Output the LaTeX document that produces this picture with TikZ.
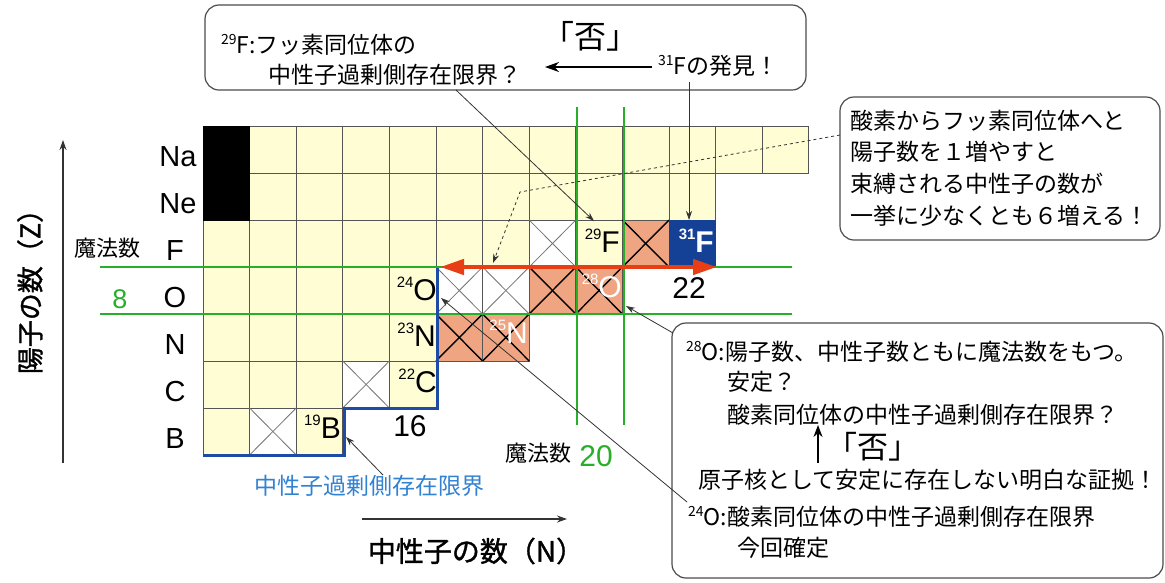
\documentclass[tikz,border=0pt]{standalone}
\usepackage{fontspec}
\setmainfont{Liberation Sans}
\newfontfamily\jp{Noto Sans CJK JP}
\newfontfamily\jpb[FakeBold=1.2]{Noto Sans CJK JP}
\usetikzlibrary{arrows.meta}
\definecolor{cream}{RGB}{255,253,212}
\definecolor{salmon}{RGB}{240,165,130}
\definecolor{cellblue}{RGB}{20,65,150}
\definecolor{gridc}{RGB}{85,85,85}
\definecolor{mgreen}{RGB}{40,175,40}
\definecolor{mred}{RGB}{232,62,22}
\definecolor{dripblue}{RGB}{30,75,165}
\definecolor{txtblue}{RGB}{50,130,210}
\newcommand\sups[2][14]{\raisebox{0.42em}{\fontsize{#1}{#1}\selectfont #2}}
\begin{document}
\begin{tikzpicture}[x=1pt,y=-1pt,
  elem/.style={font=\fontsize{29}{30}\selectfont, inner sep=0pt},
  cellt/.style={font=\fontsize{30}{30}\selectfont, inner sep=0pt, anchor=east},
  num/.style={font=\fontsize{30}{30}\selectfont, inner sep=0pt},
  jtxt/.style={font=\jp\fontsize{23}{28}\selectfont, inner sep=0pt, anchor=west},
  conn/.style={draw=black!80, line width=0.8pt, -{Stealth[length=9pt,width=6pt]}},
  rbox/.style={draw=black!70, line width=1.2pt, rounded corners=14pt},
  wx/.style={draw=black!55, line width=0.8pt},
  ox/.style={draw=black, line width=1.4pt}]
\useasboundingbox (0,0) rectangle (1165,582);
\fill[white] (0,0) rectangle (1165,582);

% ---- grid cells ----
\foreach \r/\n in {0/13,1/11,2/11,3/9,4/7,5/5,6/3} {
  \foreach \c in {1,...,\n} {
    \filldraw[fill=cream, draw=gridc, line width=1pt] ({203+46.6*(\c-1)},{126+47*\r}) rectangle +(46.6,47);
  }
}
% black cells
\foreach \c/\r in {0/0,0/1} {
  \filldraw[fill=black, draw=black] ({203+46.6*\c},{126+47*\r}) rectangle +(46.6,47);
}
% white crossed cells
\foreach \c/\r in {7/2,5/3,6/3,3/5,1/6} {
  \filldraw[fill=white, draw=gridc, line width=1pt] ({203+46.6*\c},{126+47*\r}) rectangle +(46.6,47);
  \draw[wx] ({203+46.6*\c},{126+47*\r}) -- +(46.6,47);
  \draw[wx] ({203+46.6*\c},{126+47*\r+47}) -- +(46.6,-47);
}
% salmon crossed cells
\foreach \c/\r in {9/2,7/3,8/3,5/4,6/4} {
  \filldraw[fill=salmon, draw=gridc, line width=1pt] ({203+46.6*\c},{126+47*\r}) rectangle +(46.6,47);
  \draw[ox] ({203+46.6*\c},{126+47*\r}) -- +(46.6,47);
  \draw[ox] ({203+46.6*\c},{126+47*\r+47}) -- +(46.6,-47);
}
% blue cell 31F
\filldraw[fill=cellblue, draw=cellblue] ({203+46.6*10},{126+47*2}) rectangle +(46.6,47);

% ---- magic number lines ----
\draw[mgreen, line width=2pt] (100,267) -- (792,267);
\draw[mgreen, line width=2pt] (100,314) -- (792,314);
\draw[mgreen, line width=2pt] (577,107) -- (577,425);
\draw[mgreen, line width=2.4pt] (624,107) -- (624,425);

% ---- drip line ----
\draw[dripblue, line width=3pt, line join=miter] (203,455) -- (344,455) -- (344,408) -- (437,408) -- (437,268);

% ---- cell labels ----
\node[cellt] (c29F) at (620,241) {\sups[15]{29}F};
\node[cellt, text=white, font=\bfseries\fontsize{30}{30}\selectfont] (c31F) at (714,241) {\sups[15]{31}F};
\node[cellt, text=white] (c28O) at (622,286) {\sups[15]{28}O};
\node[cellt, text=white] (c25N) at (528,332) {\sups[15]{25}N};
\node[cellt] (c24O) at (437,289) {\sups[15]{24}O};
\node[cellt] (c23N) at (436,335) {\sups[15]{23}N};
\node[cellt] (c22C) at (437,381) {\sups[15]{22}C};
\node[cellt] (c19B) at (341,427) {\sups[15]{19}B};

% ---- red arrow ----
\coordinate (rl) at (440,267);
\coordinate (rr) at (717,267);
\draw[mred, line width=4.5pt, {Triangle[length=24pt,width=15pt]}-{Triangle[length=24pt,width=15pt]}] (rl) -- (rr);

% ---- row labels ----
\node[elem] (lNa) at (178,157) {Na};
\node[elem] (lNe) at (178,204) {Ne};
\node[elem] (lF) at (175,251) {F};
\node[elem] (lO) at (175,298) {O};
\node[elem] (lN) at (175,345) {N};
\node[elem] (lC) at (175,392) {C};
\node[elem] (lB) at (175,439) {B};
\node[font=\jp\fontsize{22}{24}\selectfont, inner sep=0pt] (mag8) at (107,248) {魔法数};
\node[num, text=mgreen, font=\fontsize{27}{27}\selectfont] (n8) at (120,299) {8};
\node[num] (n16) at (410,426) {16};
\node[num] (n22) at (689,288) {22};
\node[font=\jp\fontsize{22}{24}\selectfont, inner sep=0pt] (mag20) at (538,453) {魔法数};
\node[num, text=mgreen] (n20) at (596,456) {20};

% ---- axes ----
\coordinate (ya0) at (63,463);
\coordinate (ya1) at (63,140);
\draw[black!80, line width=1.2pt, -{Stealth[length=10pt,width=7pt]}] (ya0) -- (ya1);
\node[font=\jpb\fontsize{27}{28}\selectfont, rotate=90, inner sep=0pt] (ylab) at (30,285) {陽子の数（Z）};
\coordinate (xa0) at (362,519);
\coordinate (xa1) at (567,519);
\draw[black!80, line width=1.2pt, -{Stealth[length=10pt,width=7pt]}] (xa0) -- (xa1);
\node[font=\jpb\fontsize{28}{30}\selectfont, inner sep=0pt] (xlab) at (476,551) {中性子の数（N）};

% ---- drip line label ----
\node[font=\jp\fontsize{23}{26}\selectfont, text=txtblue, inner sep=0pt] (dripl) at (369,486) {中性子過剰側存在限界};
\coordinate (pb) at (383,475);
\coordinate (ab) at (346,437);
\draw[conn] (pb) -- (ab);

% ---- top callout ----
\draw[rbox] (205,5) rectangle (806,90);
\node[jtxt] (t1) at (221,45) {\sups{29}F:フッ素同位体の};
\node[jtxt] (t2) at (268,75) {中性子過剰側存在限界？};
\node[font=\jp\fontsize{32}{34}\selectfont, inner sep=0pt] (hi1) at (590,36) {「否」};
\node[jtxt] (t3) at (658,66) {\sups{31}Fの発見！};
\coordinate (ha) at (545,67);
\draw[black, line width=1.8pt, -{Stealth[length=14pt,width=10pt]}] (t3.west) ++(-6,1) -- (ha);
\coordinate (p29) at (456,90);
\coordinate (a29) at (594,221);
\draw[conn] (p29) -- (a29);
\coordinate (p31) at (689,82);
\coordinate (a31) at (689,220);
\draw[conn] (p31) -- (a31);

% ---- right callout ----
\draw[rbox] (840,97) rectangle (1160,240);
\node[jtxt] (r1) at (850,121) {酸素からフッ素同位体へと};
\node[jtxt] (r2) at (850,152) {陽子数を１増やすと};
\node[jtxt] (r3) at (850,184) {束縛される中性子の数が};
\node[jtxt] (r4) at (850,216) {一挙に少なくとも６増える！};
\coordinate (pd) at (840,135);
\coordinate (pd2) at (520,192);
\coordinate (ad) at (493,263);
\draw[conn, dashed] (pd) -- (pd2) -- (ad);

% ---- bottom callout ----
\draw[rbox] (672,323) rectangle (1163,578);
\node[jtxt] (b1) at (686,352) {\sups{28}O:陽子数、中性子数ともに魔法数をもつ。};
\node[jtxt] (b2) at (727,382) {安定？};
\node[jtxt] (b3) at (727,415) {酸素同位体の中性子過剰側存在限界？};
\node[font=\jp\fontsize{31}{33}\selectfont, inner sep=0pt] (hi2) at (873,447) {「否」};
\coordinate (ua0) at (818,463);
\coordinate (ua1) at (818,425);
\draw[black, line width=1.8pt, -{Stealth[length=12pt,width=9pt]}] (ua0) -- (ua1);
\node[jtxt] (b4) at (698,480) {原子核として安定に存在しない明白な証拠！};
\node[jtxt] (b5) at (688,517) {\sups{24}O:酸素同位体の中性子過剰側存在限界};
\node[jtxt] (b6) at (737,548) {今回確定};
\coordinate (p28) at (673,333);
\coordinate (a28) at (626,306);
\draw[conn] (p28) -- (a28);
\coordinate (p24) at (687,502);
\coordinate (a24) at (441,298);
\draw[conn] (p24) -- (a24);
\end{tikzpicture}
\end{document}
